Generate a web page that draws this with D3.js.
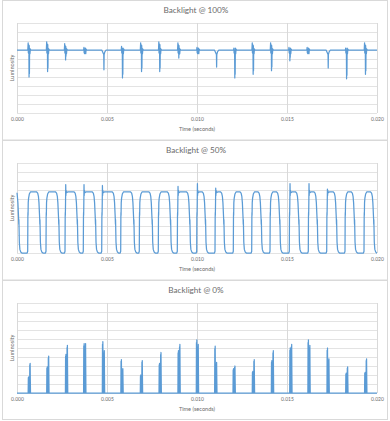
<!DOCTYPE html>
<html>
<head>
<meta charset="utf-8">
<script src="https://cdn.jsdelivr.net/npm/d3@7"></script>
<style>
  body { margin: 0; background: #fff; }
  svg { display: block; }
  text { font-family: Lato, "Open Sans", sans-serif; fill: #6b6b6b; }
</style>
</head>
<body>
<svg id="chart" width="390" height="421"></svg>
<script>
// x axis ticks (seconds)
var timeTicks = [0, 0.005, 0.010, 0.015, 0.020];
var titles = ["Backlight @ 100%", "Backlight @ 50%", "Backlight @ 0%"];

// 100%: flat level with a spike burst about every 1 ms
var fullBase = 0.70;
var fullTimes = [0.00068, 0.00171, 0.00271, 0.00378, 0.00483, 0.00587, 0.00693, 0.00794, 0.00900, 0.01006,
                 0.01109, 0.01211, 0.01313, 0.01415, 0.01517, 0.01618, 0.01729, 0.01832, 0.01937];
var fullHigh = [0.78, 0.79, 0.77, 0.73, 0.70, 0.74, 0.78, 0.79, 0.78, 0.73, 0.70, 0.72, 0.78, 0.78, 0.73, 0.73, 0.70, 0.72, 0.78];
var fullLow  = [0.40, 0.46, 0.59, 0.67, 0.48, 0.39, 0.46, 0.46, 0.61, 0.67, 0.51, 0.39, 0.43, 0.47, 0.58, 0.67, 0.50, 0.38, 0.43];

// 50%: PWM-like square wave
var halfRise = [0.000594, 0.001611, 0.002667, 0.003683, 0.004706, 0.005761, 0.006794, 0.00785, 0.008906, 0.009983,
                0.011, 0.012017, 0.013039, 0.014056, 0.015128, 0.016183, 0.017206, 0.018222, 0.019278];
var halfFall = [0.00007, 0.00124, 0.00229, 0.00332, 0.00433, 0.00544, 0.00646, 0.00748, 0.0085, 0.00957,
                0.01044, 0.01146, 0.01254, 0.01354, 0.01457, 0.01563, 0.01665, 0.01772, 0.01872, 0.01979];
var halfTop = 0.68;
var halfOvershoot = [0, 0, 0.76, 0.76, 0.75, 0, 0, 0, 0.74, 0.77, 0.72, 0, 0, 0, 0.77, 0.77, 0.71, 0, 0];

// 0%: pairs of short pulses
var zeroTimes = [0.00064, 0.00167, 0.00271, 0.00372, 0.00476, 0.00579, 0.00687, 0.00791, 0.00896, 0.00998,
                 0.0110, 0.01202, 0.01309, 0.01415, 0.01517, 0.01618, 0.01724, 0.01828, 0.01933];
var zeroFirst  = [0.18, 0.29, 0.43, 0.55, 0.57, 0.37, 0.20, 0.33, 0.47, 0.59, 0.52, 0.27, 0.24, 0.36, 0.50, 0.59, 0.50, 0.22, 0.23];
var zeroSecond = [0.33, 0.41, 0.53, 0.55, 0.47, 0.27, 0.36, 0.45, 0.54, 0.54, 0.34, 0.30, 0.37, 0.47, 0.54, 0.53, 0.38, 0.29, 0.38];

// build the point lists
var fullPts = [[0, fullBase]];
fullTimes.forEach(function (t, i) {
  var hi = fullHigh[i], lo = fullLow[i];
  if (hi > fullBase + 0.01) {
    fullPts.push([t - 0.00008, fullBase], [t - 0.00006, hi], [t - 0.00005, fullBase - 0.03],
      [t - 0.00004, hi - 0.02], [t - 0.00003, fullBase - 0.04], [t - 0.00002, hi - 0.04],
      [t - 0.00001, lo], [t, hi - 0.03], [t + 0.00001, lo + 0.04], [t + 0.00002, fullBase + 0.02],
      [t + 0.00004, fullBase - 0.04], [t + 0.00006, fullBase + 0.01], [t + 0.00009, fullBase]);
  } else {
    fullPts.push([t - 0.00012, fullBase], [t - 0.00004, fullBase - 0.035], [t - 0.00001, fullBase - 0.05], [t, lo],
      [t + 0.00001, fullBase - 0.05], [t + 0.00005, fullBase - 0.02], [t + 0.00012, fullBase]);
  }
});
fullPts.push([0.02, fullBase]);

function fallPts(f) {
  return [[f - 0.00016, halfTop], [f - 0.00009, halfTop - 0.015], [f - 0.00005, halfTop - 0.05],
    [f - 0.00002, halfTop - 0.12], [f + 0.00002, 0.38], [f + 0.00003, 0.32], [f + 0.000035, 0.37],
    [f + 0.00006, 0.12], [f + 0.00009, 0.04], [f + 0.00014, 0.01], [f + 0.0002, 0.0]];
}

var halfPts = [[0, halfTop - 0.01]];
fallPts(halfFall[0]).forEach(function (p) { if (p[0] > 0) halfPts.push(p); });
halfRise.forEach(function (r, i) {
  var f = halfFall[i + 1];
  halfPts.push([r - 0.00003, 0.0], [r, 0.02], [r + 0.00001, 0.40], [r + 0.000015, 0.45], [r + 0.00002, 0.42],
    [r + 0.00003, 0.56]);
  if (halfOvershoot[i]) {
    halfPts.push([r + 0.00004, halfOvershoot[i]], [r + 0.00005, halfTop - 0.04], [r + 0.00006, halfTop + 0.015],
      [r + 0.00009, halfTop - 0.01], [r + 0.00016, halfTop]);
  } else {
    halfPts.push([r + 0.00005, halfTop - 0.07], [r + 0.00009, halfTop - 0.025], [r + 0.00016, halfTop]);
  }
  fallPts(f).forEach(function (p) { if (p[0] <= 0.02) halfPts.push(p); });
});
if (halfPts[halfPts.length - 1][0] < 0.02) halfPts.push([0.02, halfPts[halfPts.length - 1][1]]);

var zeroPts = [[0, 0]];
zeroTimes.forEach(function (t, i) {
  [[t, zeroFirst[i]], [t + 0.00008, zeroSecond[i]]].forEach(function (p) {
    var c = p[0], a = p[1];
    zeroPts.push([c - 0.00002, 0], [c - 0.00001, a * 0.95], [c, a * 0.55], [c + 0.00001, a],
      [c + 0.00002, a * 0.45], [c + 0.00003, 0]);
  });
});
zeroPts.push([0.02, 0]);

var series = [fullPts, halfPts, zeroPts];

var svg = d3.select("#chart");
var panelH = 140;
var x = d3.scaleLinear().domain([0, 0.02]).range([17, 377]);

series.forEach(function (pts, k) {
  var oy = k * panelH;
  var g = svg.append("g").attr("transform", "translate(0," + oy + ")");
  var y = d3.scaleLinear().domain([0, 1]).range([113, 23]);

  g.append("rect")
    .attr("x", 2.5).attr("y", 0.5)
    .attr("width", 385).attr("height", k === 2 ? 139 : 139.5)
    .attr("fill", "#fff").attr("stroke", "#d9d9d9").attr("stroke-width", 1);

  // horizontal gridlines
  g.selectAll(".hgrid")
    .data(y.ticks(10))
    .enter().append("line")
    .attr("x1", x(0)).attr("x2", x(0.02))
    .attr("y1", function (d) { return Math.round(y(d)) + 0.5; })
    .attr("y2", function (d) { return Math.round(y(d)) + 0.5; })
    .attr("stroke", "#e3e3e3").attr("stroke-width", 1);

  // vertical gridlines
  g.selectAll(".vgrid")
    .data(timeTicks)
    .enter().append("line")
    .attr("x1", function (d) { return Math.round(x(d)) + 0.5; })
    .attr("x2", function (d) { return Math.round(x(d)) + 0.5; })
    .attr("y1", 23).attr("y2", 113)
    .attr("stroke", "#d9d9d9").attr("stroke-width", 1);

  var xAxis = d3.axisBottom(x).tickValues(timeTicks).tickFormat(d3.format(".3f")).tickSize(0).tickPadding(4);
  var ax = g.append("g").attr("transform", "translate(0,113)").call(xAxis);
  ax.select(".domain").remove();
  ax.selectAll("text").attr("font-size", 5).attr("fill", "#7a7a7a")
    .style("font-family", "Lato, sans-serif");

  var line = d3.line()
    .x(function (d) { return x(d[0]); })
    .y(function (d) { return y(d[1]); });

  g.append("path")
    .datum(pts)
    .attr("d", line)
    .attr("fill", "none")
    .attr("stroke", "#5b9bd5")
    .attr("stroke-width", 1.25)
    .attr("stroke-linejoin", "round");

  g.append("text")
    .attr("x", 196).attr("y", 13)
    .attr("text-anchor", "middle")
    .attr("font-size", 8.2)
    .text(titles[k]);

  g.append("text")
    .attr("x", 197).attr("y", 130.5)
    .attr("text-anchor", "middle")
    .attr("font-size", 5.6)
    .text("Time (seconds)");

  g.append("text")
    .attr("transform", "translate(14,68) rotate(-90)")
    .attr("text-anchor", "middle")
    .attr("font-size", 5.6)
    .text("Luminosity");
});
</script>
</body>
</html>
